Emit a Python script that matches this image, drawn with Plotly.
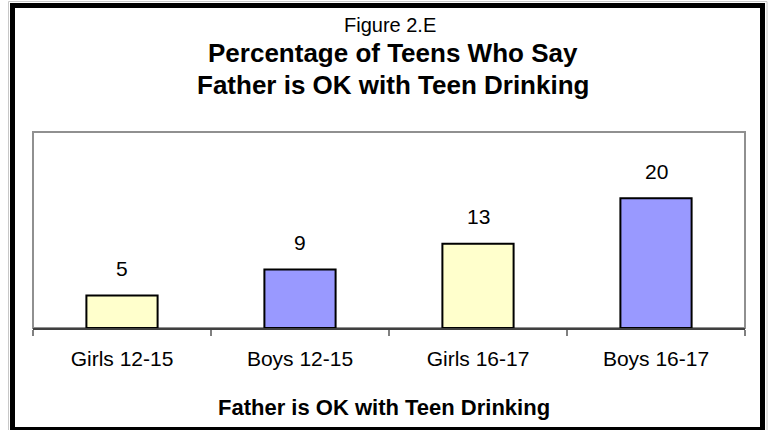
import plotly.graph_objects as go

categories = ["Girls 12-15", "Boys 12-15", "Girls 16-17", "Boys 16-17"]
values = [5, 9, 13, 20]
bar_colors = ["#FFFFCC", "#9999FF", "#FFFFCC", "#9999FF"]
fig_label = "Figure 2.E"
title_lines = ["Percentage of Teens Who Say", "Father is OK with Teen Drinking"]
x_title = "Father is OK with Teen Drinking"

W, H = 769, 430
L, R, T, B = 33, 24, 132, 102
PW, PH = W - L - R, H - T - B
FONT = "Arial, Liberation Sans, sans-serif"


def px(x):
    return (x - L) / PW


def py(y):
    return (H - B - y) / PH


fig = go.Figure()
fig.add_trace(go.Bar(
    x=categories, y=values, width=0.4,
    marker=dict(color=bar_colors, line=dict(color="black", width=2)),
    hoverinfo="skip",
))

annotations = []
for c, v in zip(categories, values):
    annotations.append(dict(x=c, y=v, xref="x", yref="y", text=str(v), showarrow=False,
                            yanchor="middle", yshift=27,
                            font=dict(family=FONT, size=21, color="black")))
annotations.append(dict(x=px(390), y=py(25), xref="paper", yref="paper", text=fig_label,
                        showarrow=False, xanchor="center", yanchor="middle",
                        font=dict(family=FONT, size=20, color="black")))
for i, line in enumerate(title_lines):
    annotations.append(dict(x=px(393), y=py(53 + 32 * i), xref="paper", yref="paper",
                            text="<b>%s</b>" % line, showarrow=False,
                            xanchor="center", yanchor="middle",
                            font=dict(family=FONT, size=26, color="black")))
annotations.append(dict(x=px(384), y=py(407), xref="paper", yref="paper",
                        text="<b>%s</b>" % x_title, showarrow=False,
                        xanchor="center", yanchor="middle",
                        font=dict(family=FONT, size=22, color="black")))

shapes = [
    dict(type="rect", xref="paper", yref="paper", x0=px(33), x1=px(745), y0=py(328), y1=py(132),
         line=dict(color="#909090", width=2), layer="below"),
    dict(type="rect", xref="paper", yref="paper", x0=px(8.5), x1=px(767), y0=py(432), y1=py(1.5),
         line=dict(color="#C8C8C8", width=1), layer="above"),
    dict(type="rect", xref="paper", yref="paper", x0=px(12.5), x1=px(762.5), y0=py(429.5), y1=py(5.5),
         line=dict(color="black", width=5), layer="above"),
]

fig.update_layout(
    width=W, height=H,
    margin=dict(l=L, r=R, t=T, b=B, pad=0),
    paper_bgcolor="white", plot_bgcolor="white",
    showlegend=False,
    annotations=annotations,
    shapes=shapes,
    xaxis=dict(type="category", tickson="boundaries", ticks="outside", ticklen=6,
               tickcolor="#808080", tickwidth=2, showline=True, linecolor="#404040", linewidth=2,
               showgrid=False, zeroline=False, range=[-0.5, 3.5],
               tickfont=dict(family=FONT, size=21, color="black"), ticklabelstandoff=11),
    yaxis=dict(range=[0, 30.2], showticklabels=False, ticks="", showgrid=False,
               zeroline=False, showline=False),
)

fig.write_html("out.html", config={"displayModeBar": False},
               post_script="document.body.style.margin='0px';")
